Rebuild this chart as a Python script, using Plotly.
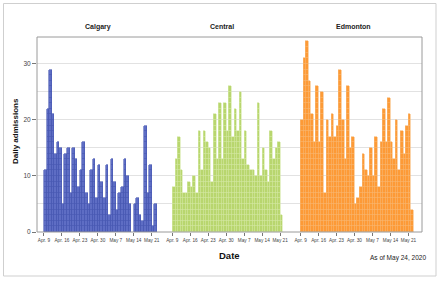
import plotly.graph_objects as go
import pandas as pd

regions = ["Calgary", "Central", "Edmonton"]
start_date = "2020-04-09"

calgary = [11, 22, 29, 21, 14, 16, 15, 5, 14, 15, 7, 15, 13, 8, 11, 16, 7, 5, 11, 13, 6, 12,
           9, 6, 12, 3, 13, 9, 4, 7, 8, 13, 10, 5, 0, 5, 6, 3, 2, 19, 7, 12, 1, 5]
central = [8, 13, 17, 11, 7, 7, 9, 8, 10, 7, 18, 11, 18, 16, 15, 9, 21, 13, 23, 13, 23, 18,
           26, 17, 22, 18, 25, 13, 18, 12, 11, 11, 10, 23, 10, 15, 11, 9, 18, 13, 15, 16, 3]
edmonton = [20, 31, 34, 27, 21, 16, 26, 16, 25, 7, 20, 17, 21, 17, 19, 29, 20, 13, 26, 15, 17, 5,
            6, 8, 14, 11, 10, 15, 10, 17, 8, 16, 22, 16, 24, 16, 13, 20, 11, 18, 14, 19, 21, 4]

tick_dates = ["2020-04-09", "2020-04-16", "2020-04-23", "2020-04-30",
              "2020-05-07", "2020-05-14", "2020-05-21"]
tick_labels = ["Apr. 9", "Apr. 16", "Apr. 23", "Apr. 30", "May 7", "May 14", "May 21"]
y_tick_vals = [0, 10, 20, 30]

fill_colors = ["#5e6dc4", "#b8d66e", "#fd9a36"]
line_colors = ["#4858b2", "#d4e8a4", "#f8b872"]

DAY_MS = 86400000
FONT = "Liberation Sans, Arial, sans-serif"

fig = go.Figure()
series = [calgary, central, edmonton]
for i, vals in enumerate(series):
    dates = pd.date_range(start_date, periods=len(vals), freq="D")
    xa = "x" if i == 0 else f"x{i + 1}"
    for level in range(1, max(vals) + 1):
        y = [1 if v >= level else None for v in vals]
        fig.add_trace(go.Bar(
            x=dates, y=y, xaxis=xa, yaxis="y",
            width=DAY_MS, xperiod=DAY_MS, xperiodalignment="middle",
            marker=dict(color=fill_colors[i], line=dict(color=line_colors[i], width=0.6)),
            showlegend=False, hoverinfo="skip",
        ))

L, R, T, B = 37, 18, 37, 49
W, H = 440, 281
pw, ph = W - L - R, H - T - B

def px(x):
    return (x - L) / pw

def py(y):
    return (H - B - y) / ph

layout = dict(
    width=W, height=H,
    margin=dict(l=L, r=R, t=T, b=B, pad=0),
    paper_bgcolor="white", plot_bgcolor="white",
    barmode="stack", bargap=0,
    font=dict(family=FONT, color="#333"),
    yaxis=dict(
        range=[0, 34.8], tickvals=y_tick_vals, ticks="outside", ticklen=4,
        tickcolor="#777", tickfont=dict(size=6.5, color="#444"),
        showgrid=True, gridcolor="#e2e2e2", gridwidth=1,
        minor=dict(tickvals=[5, 15, 25], showgrid=True, gridcolor="#e2e2e2", ticks=""),
        zeroline=False, showline=False,
    ),
)
for i in range(3):
    key = "xaxis" if i == 0 else f"xaxis{i + 1}"
    layout[key] = dict(
        domain=[i / 3, (i + 1) / 3], anchor="y", type="date",
        range=["2020-04-06 07:00", "2020-05-26 07:00"],
        tickvals=tick_dates, ticktext=tick_labels, tickangle=0,
        ticks="outside", ticklen=3, tickcolor="#777",
        tickfont=dict(size=4.7, color="#444"),
        showgrid=False, zeroline=False, showline=False,
    )
fig.update_layout(**layout)

shapes = [
    dict(type="rect", xref="paper", yref="paper", x0=0, x1=1, y0=0, y1=1,
         line=dict(color="#9a9a9a", width=1), fillcolor="rgba(0,0,0,0)", layer="above"),
    dict(type="rect", xref="paper", yref="paper",
         x0=px(3.5), x1=px(436), y0=py(276), y1=py(3.5),
         line=dict(color="#cfcfcf", width=1), fillcolor="rgba(0,0,0,0)"),
]
fig.update_layout(shapes=shapes)

title_x = [98, 222, 353]
ann = []
for name, xc in zip(regions, title_x):
    ann.append(dict(text=f"<b>{name}</b>", x=px(xc), y=py(27), xref="paper", yref="paper",
                    showarrow=False, xanchor="center", yanchor="middle",
                    font=dict(size=7, color="#222", family=FONT)))
ann.append(dict(text="<b>Daily admissions</b>", x=px(15), y=py(131), xref="paper", yref="paper",
                showarrow=False, textangle=-90, xanchor="center", yanchor="middle",
                font=dict(size=8, color="#111", family=FONT)))
ann.append(dict(text="<b>Date</b>", x=px(229.7), y=py(255), xref="paper", yref="paper",
                showarrow=False, xanchor="center", yanchor="middle",
                font=dict(size=9.5, color="#111", family=FONT)))
ann.append(dict(text="As of May 24, 2020", x=px(428), y=py(258), xref="paper", yref="paper",
                showarrow=False, xanchor="right", yanchor="middle",
                font=dict(size=6.5, color="#222", family=FONT)))
fig.update_layout(annotations=ann)

fig.write_html("out.html", config={"displayModeBar": False},
               post_script="document.body.style.margin='0';document.body.style.overflow='hidden';")
